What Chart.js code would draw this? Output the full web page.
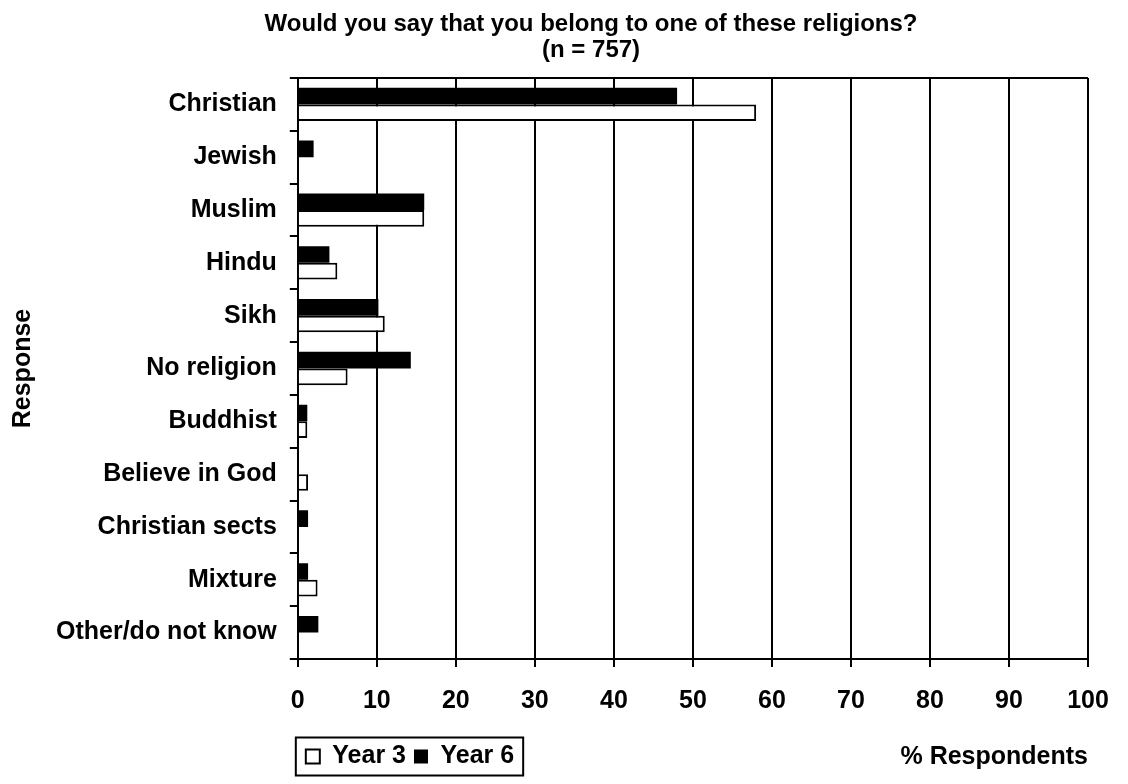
<!DOCTYPE html>
<html>
<head>
<meta charset="utf-8">
<script src="https://cdn.jsdelivr.net/npm/chart.js@4/dist/chart.umd.min.js"></script>
<style>
  body { margin: 0; background: #fff; }
  #wrap { width: 1128px; height: 784px; position: relative; }
</style>
</head>
<body>
<div id="wrap"><canvas id="grafico"></canvas></div>
<script>
const titulo = ['Would you say that you belong to one of these religions?', '(n = 757)'];
const respostas = ['Christian', 'Jewish', 'Muslim', 'Hindu', 'Sikh', 'No religion', 'Buddhist',
                   'Believe in God', 'Christian sects', 'Mixture', 'Other/do not know'];
const ano3 = [58, 0, 16, 5, 11, 6.3, 1.2, 1.3, 0, 2.5, 0];
const ano6 = [48, 2, 16, 4, 10.2, 14.3, 1.2, 0, 1.3, 1.3, 2.6];
const ticksX = [0, 10, 20, 30, 40, 50, 60, 70, 80, 90, 100];
const tituloX = '% Respondents';
const tituloY = 'Response';

const fonte = '"Liberation Sans", Arial, sans-serif';
Chart.defaults.font.family = fonte;
Chart.defaults.font.weight = 'bold';
Chart.defaults.font.size = 25;
Chart.defaults.color = '#000';

// titulo, caixa da legenda e texto do eixo x desenhados a mao
const textosExtras = {
    id: 'textosExtras',
    afterDraw(chart) {
        const ctx = chart.ctx;
        const area = chart.chartArea;
        ctx.save();
        ctx.fillStyle = '#000';
        ctx.textAlign = 'center';
        ctx.textBaseline = 'middle';
        ctx.font = 'bold 24px ' + fonte;
        titulo.forEach(function (linha, i) {
            ctx.fillText(linha, chart.width * 0.524, 24 + i * 26);
        });

        const caixas = chart.legend.legendHitBoxes;
        const prim = caixas[0];
        const ult = caixas[caixas.length - 1];
        const meio = prim.top + prim.height / 2;
        ctx.strokeStyle = '#000';
        ctx.lineWidth = 2;
        ctx.strokeRect(prim.left - 10, meio - 19, ult.left + ult.width + 9 - (prim.left - 10), 38);

        ctx.font = 'bold 25px ' + fonte;
        ctx.textAlign = 'right';
        ctx.fillText(tituloX, area.right, meio + 1);
        ctx.restore();
    }
};

const data = {
    labels: respostas,
    datasets: [{
        label: 'Year 6',
        data: ano6,
        backgroundColor: '#000',
        borderColor: '#000',
        borderWidth: 0
    }, {
        label: 'Year 3',
        data: ano3,
        backgroundColor: '#fff',
        borderColor: '#000',
        borderWidth: 2
    }]
};

const config = {
    type: 'bar',
    data: data,
    plugins: [textosExtras],
    options: {
        indexAxis: 'y',
        responsive: true,
        maintainAspectRatio: false,
        animation: false,
        layout: { padding: { top: 78, right: 40, bottom: 5, left: 0 } },
        categoryPercentage: 0.63,
        barPercentage: 1.0,
        scales: {
            x: {
                min: 0,
                max: 100,
                afterBuildTicks: function (scale) {
                    scale.ticks = ticksX.map(function (v) { return { value: v }; });
                },
                grid: { color: '#000', lineWidth: 2, tickLength: 8 },
                border: { color: '#000', width: 2 },
                ticks: { padding: 19 },
                afterFit: function (scale) { scale.height += 1; }
            },
            y: {
                grid: {
                    offset: true,
                    lineWidth: 2,
                    tickLength: 8,
                    color: function (c) { return c.index === 0 ? '#000' : 'rgba(0,0,0,0)'; },
                    tickColor: '#000'
                },
                border: { color: '#000', width: 2 },
                ticks: { padding: 13 },
                title: {
                    display: true,
                    text: tituloY,
                    padding: { top: 8, bottom: 5 }
                }
            }
        },
        plugins: {
            legend: {
                position: 'bottom',
                align: 'start',
                fullSize: false,
                reverse: true,
                labels: { boxWidth: 14, boxHeight: 14, padding: 8 }
            },
            tooltip: { enabled: false }
        }
    }
};

new Chart(document.getElementById('grafico'), config);
</script>
</body>
</html>
